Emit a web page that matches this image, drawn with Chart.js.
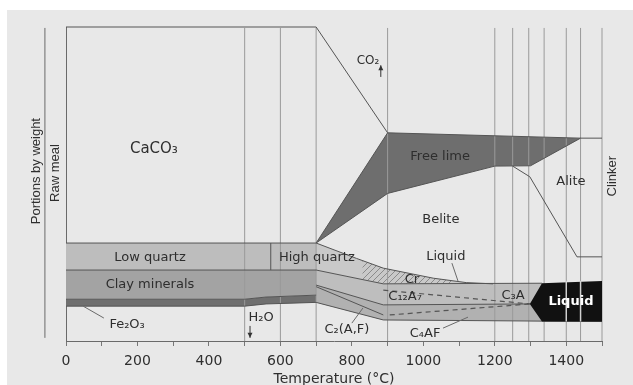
<!DOCTYPE html>
<html><head><meta charset="utf-8">
<script src="https://cdn.jsdelivr.net/npm/chart.js@4.4.0/dist/chart.umd.min.js"></script>
<style>html,body{margin:0;padding:0;background:#fff}canvas{display:block}</style>
</head><body>
<canvas id="c" width="633" height="385"></canvas>
<script>
// ---- data: temperature (°C) vs portion by weight (0..100 of plot height) ----
const tickLabels = [0, 200, 400, 600, 800, 1000, 1200, 1400];
const gridTemps = [500, 600, 700, 900, 1200, 1250, 1295, 1338, 1400, 1440, 1500];
const liquidGridTemps = [1400, 1440];
const quartzInversionT = 573;

const caco3Top = [[0,100],[700,100],[900,66.3]];
const quartzTop = [[0,31.2],[700,31.2]];
const quartzClay = [[0,22.6],[700,22.6]];
const clayFe = [[0,13.3],[500,13.3],[560,14.0],[700,14.6]];
const feBottom = [[0,11.1],[500,11.1],[560,11.8],[700,12.3]];
const freeLimeTop = [[700,31.2],[900,66.3],[1440,64.6]];
const freeLimeBottom = [[700,31.2],[900,47.0],[1200,55.7],[1300,55.8],[1440,64.6]];
const clinkerTop = [[1440,64.6],[1500,64.6]];
const aliteBottom = [[1250,55.7],[1298,52.3],[1430,26.8],[1500,26.8]];
const beliteBottom = [[700,31.2],[813,26.3],[888,23.2],[1028,20.0],[1120,18.6],[1195,18.2]];
const meltTop = [[700,22.6],[888,18.2],[1332,18.4]];
const aluminateBottom = [[700,17.8],[888,11.5],[1298,11.8]];
const ferriteLine = [[700,17.3],[888,8.3]];
const c3aDash = [[888,16.2],[1298,11.8]];
const c4afDash = [[906,8.3],[1298,11.8]];
const clinkerBottom = [[700,12.3],[888,6.7],[1500,6.2]];
const liquidTop = [[1298,11.8],[1332,18.4],[1500,19.1]];
const liquidBottom = [[1298,11.8],[1332,6.2],[1500,6.2]];
const crUpper = [[830,25.6],[888,23.2],[1028,20.0],[1080,19.2]];
const crLower = [[830,19.6],[888,18.2],[1080,18.2]];

// ---- text annotations (data coordinates) ----
const textLabels = [
  {t:'CaCO\u2083', x:246, y:61.1, size:15},
  {t:'CO\u2082', x:845, y:89.2, size:12},
  {t:'Free lime', x:1047, y:58.6, size:13},
  {t:'Alite', x:1413, y:50.6, size:13},
  {t:'Belite', x:1049, y:38.5, size:13},
  {t:'Liquid', x:1063, y:26.8, size:13},
  {t:'Cr', x:968, y:19.7, size:13},
  {t:'Low quartz', x:235, y:26.4, size:13},
  {t:'High quartz', x:702, y:26.4, size:13},
  {t:'Clay minerals', x:235, y:17.8, size:13},
  {t:'Fe\u2082O\u2083', x:171, y:5.1, size:13},
  {t:'H\u2082O', x:546, y:7.6, size:13},
  {t:'C\u2081\u2082A\u2087', x:949, y:14.0, size:13},
  {t:'C\u2083A', x:1251, y:14.6, size:13},
  {t:'C\u2082(A,F)', x:786, y:3.5, size:13},
  {t:'C\u2084AF', x:1005, y:2.5, size:13},
  {t:'Liquid', x:1413, y:12.4, size:13, color:'#fff', bold:true}
];
const rotLabels = [
  {t:'Portions by weight', x:-84, y:54.1},
  {t:'Raw meal', x:-31, y:53.5},
  {t:'Clinker', x:1528, y:52.5}
];
const leaders = [
  [[48,11.1],[106,7.3]],
  [[1080,24.8],[1097,19.1]],
  [[800,5.7],[831,10.5]],
  [[1055,4.1],[1125,7.6]],
  [[-59,99.7],[-59,1.0]]
];
const arrows = [ // from -> to (head at "to")
  [[881,84.1],[881,87.8]],
  [[515,4.8],[515,1.0]]
];

// ---- helpers ----
const pts = a => a.map(([x,y]) => ({x, y}));
const poly = (upper, lower) => pts(upper.concat(lower.slice().reverse()).concat([upper[0]]));

const hatchCanvas = document.createElement('canvas');
hatchCanvas.width = 6; hatchCanvas.height = 6;
(function(){
  const h = hatchCanvas.getContext('2d');
  h.fillStyle = '#c9c9c9'; h.fillRect(0,0,6,6);
  h.strokeStyle = '#8a8a8a'; h.lineWidth = 1;
  h.beginPath(); h.moveTo(0,6); h.lineTo(6,0); h.moveTo(-3,3); h.lineTo(3,-3); h.moveTo(3,9); h.lineTo(9,3); h.stroke();
})();
const hatch = hatchCanvas.getContext('2d').createPattern(hatchCanvas, 'repeat');

const datasets = [];
function region(data, color) {
  datasets.push({data, fill:'shape', backgroundColor:color, borderWidth:0, borderColor:'rgba(0,0,0,0)', pointRadius:0, tension:0});
}
function line(arr, color, width, dash) {
  datasets.push({data:pts(arr), fill:false, borderColor:color, borderWidth:width||1, borderDash:dash||[], pointRadius:0, tension:0});
}

region(poly(clayFe, feBottom), '#6f6f6f');
region(poly(quartzClay, clayFe), '#a3a3a3');
region(poly(quartzTop, quartzClay), '#bdbdbd');
region(poly(beliteBottom, meltTop), '#c9c9c9');
region(poly(crUpper, crLower), hatch);
region(poly(meltTop, clinkerBottom), '#bebebe');
region(poly(aluminateBottom.concat([[1332,6.2]]), clinkerBottom), '#b1b1b1');
region(poly(freeLimeTop, freeLimeBottom), '#6e6e6e');

gridTemps.forEach(t => line([[t,0],[t,99.7]], '#9a9a9a', 1));

const lineColor = '#555';
[caco3Top, quartzTop, quartzClay, clayFe, feBottom, freeLimeTop, freeLimeBottom, clinkerTop,
 aliteBottom, beliteBottom, meltTop, aluminateBottom, ferriteLine, clinkerBottom,
 [[quartzInversionT,22.6],[quartzInversionT,31.2]]].forEach(a => line(a, lineColor, 1));
line(c3aDash, '#555', 1.2, [5,4]);
line(c4afDash, '#555', 1.2, [5,4]);

region(poly(liquidTop, liquidBottom), '#111');
liquidGridTemps.forEach(t => line([[t,6.2],[t,19.1]], '#d0d0d0', 1.5));

datasets.forEach((d, i) => { d.order = -i; d.clip = 8; });

const FONT = "'DejaVu Sans', sans-serif";
const textColor = '#2e2e2e';

const bgPlugin = {
  id: 'bg',
  beforeDraw(chart) {
    const c = chart.ctx;
    c.save();
    c.fillStyle = '#fff'; c.fillRect(0,0,chart.width,chart.height);
    c.fillStyle = '#e8e8e8'; c.fillRect(7,10,chart.width-7,chart.height-10);
    c.restore();
  }
};
const annoPlugin = {
  id: 'anno',
  afterDatasetsDraw(chart) {
    const c = chart.ctx, xs = chart.scales.x, ys = chart.scales.y;
    const px = v => xs.getPixelForValue(v), py = v => ys.getPixelForValue(v);
    c.save();
    c.strokeStyle = '#6a6a6a'; c.lineWidth = 1;
    leaders.forEach(([a,b]) => { c.beginPath(); c.moveTo(px(a[0]),py(a[1])); c.lineTo(px(b[0]),py(b[1])); c.stroke(); });
    arrows.forEach(([a,b]) => {
      const x1=px(a[0]), y1=py(a[1]), x2=px(b[0]), y2=py(b[1]);
      c.strokeStyle = '#333'; c.fillStyle = '#333';
      c.beginPath(); c.moveTo(x1,y1); c.lineTo(x2,y2); c.stroke();
      const dir = Math.sign(y2-y1);
      c.beginPath(); c.moveTo(x2,y2); c.lineTo(x2-2.5,y2-dir*5); c.lineTo(x2+2.5,y2-dir*5); c.closePath(); c.fill();
    });
    c.textAlign = 'center'; c.textBaseline = 'middle';
    textLabels.forEach(l => {
      c.fillStyle = l.color || textColor;
      c.font = (l.bold ? 'bold ' : '') + l.size + 'px ' + FONT;
      c.fillText(l.t, px(l.x), py(l.y));
    });
    c.font = '13px ' + "'Liberation Sans', Arial, sans-serif";
    c.fillStyle = textColor;
    rotLabels.forEach(l => {
      c.save(); c.translate(px(l.x), py(l.y)); c.rotate(-Math.PI/2);
      c.fillText(l.t, 0, 0); c.restore();
    });
    c.restore();
  }
};

new Chart(document.getElementById('c'), {
  type: 'line',
  data: { datasets },
  plugins: [bgPlugin, annoPlugin],
  options: {
    responsive: false, animation: false, devicePixelRatio: 1,
    layout: { padding: { left: 66, right: 31, top: 27, bottom: 0 } },
    plugins: { legend: { display: false }, tooltip: { enabled: false } },
    elements: { line: { tension: 0 }, point: { radius: 0 } },
    scales: {
      x: {
        type: 'linear', min: 0, max: 1500, position: 'bottom',
        afterFit: s => { s.height = 44; },
        grid: { drawOnChartArea: false, drawTicks: true, tickLength: 5, color: '#777' },
        border: { display: true, color: '#6a6a6a', width: 1 },
        ticks: { stepSize: 100, autoSkip: false, maxRotation: 0, padding: 7, color: textColor,
          font: { family: FONT, size: 14 },
          callback: v => tickLabels.includes(v) ? String(v) : '' },
        title: { display: true, text: 'Temperature (\u00B0C)', color: textColor,
          font: { family: FONT, size: 14 }, padding: { top: 0, bottom: -3 } }
      },
      y: {
        type: 'linear', min: 0, max: 100,
        afterFit: s => { s.width = 0; },
        ticks: { display: false },
        grid: { drawOnChartArea: false, drawTicks: false },
        border: { display: true, color: '#6a6a6a', width: 1 }
      }
    }
  }
});
</script>
</body></html>
